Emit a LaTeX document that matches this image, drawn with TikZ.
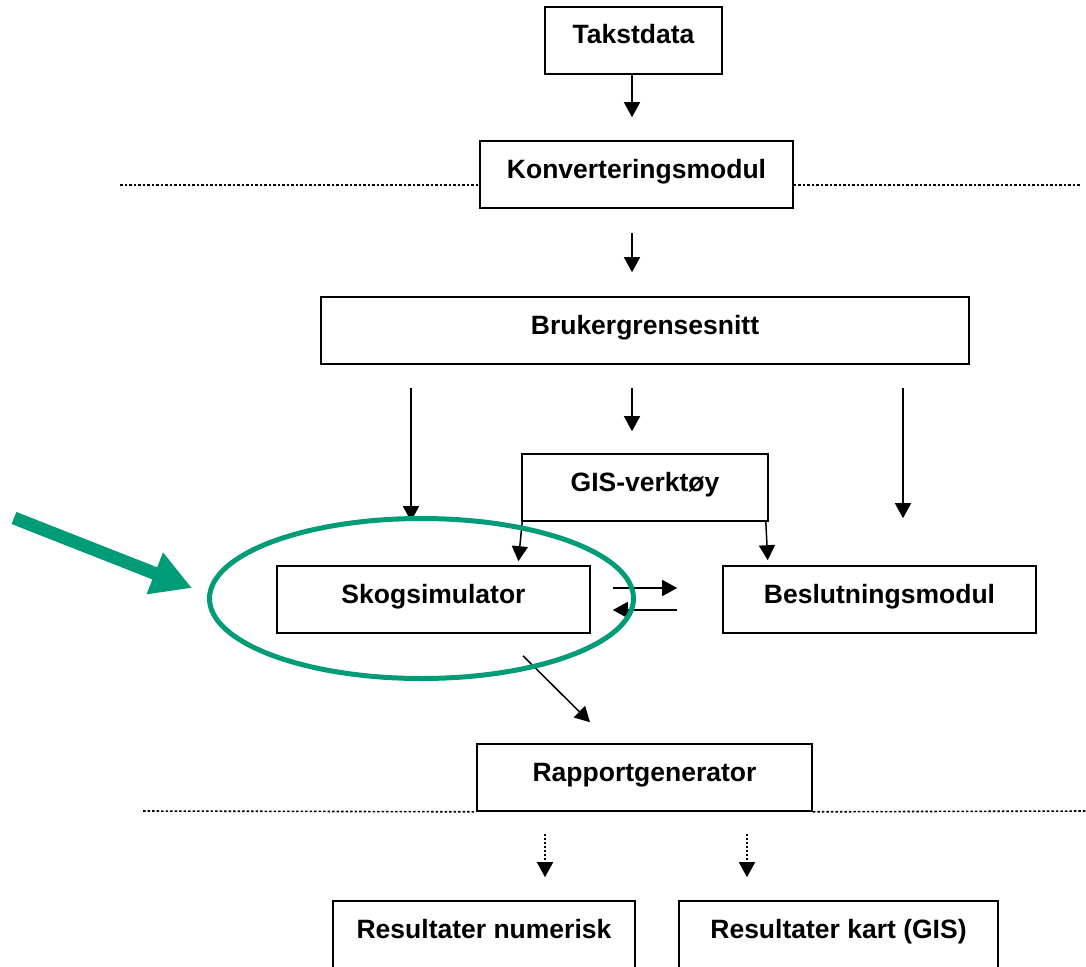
\documentclass[tikz,border=0pt]{standalone}
\usepackage{fontspec}
\setmainfont{Liberation Sans}
\usetikzlibrary{arrows.meta, calc}
\definecolor{MarkGreen}{HTML}{009B77}
\tikzset{
  modulebox/.style={rectangle, draw=black, line width=1.6pt, minimum height=67pt, text height=19pt, text depth=12pt, inner sep=0pt, font=\fontsize{26.5}{30}\selectfont\bfseries, align=center},
  flowarrow/.style={-{Triangle[length=15pt,width=16pt]}, line width=1.5pt},
  dottedarrow/.style={flowarrow, dash pattern=on 2pt off 2pt},
  sepline/.style={line width=1.6pt, dash pattern=on 2.5pt off 2pt},
  markring/.style={draw=MarkGreen, line width=5pt},
  markarrow/.style={-{Triangle[length=40pt,width=42pt]}, draw=MarkGreen, fill=MarkGreen, line width=13pt}
}

\begin{document}
\begin{tikzpicture}[x=1pt, y=-1pt]
  \useasboundingbox (0,0) rectangle (1086,966);

  % modules
  \node[modulebox, minimum width=177pt] (takst) at (633.5,40.5) {Takstdata};
  \node[modulebox, minimum width=313pt] (konv) at (636.5,174.5) {Konverteringsmodul};
  \node[modulebox, minimum width=648pt] (bruker) at (645,330.5) {Brukergrensesnitt};
  \node[modulebox, minimum width=246pt] (gis) at (645,487.5) {GIS-verktøy};
  \node[modulebox, minimum width=313pt] (skog) at (433.5,599.5) {Skogsimulator};
  \node[modulebox, minimum width=313pt] (beslut) at (879.5,599.5) {Beslutningsmodul};
  \node[modulebox, minimum width=335pt] (rapport) at (644.5,777.5) {Rapportgenerator};
  \node[modulebox, minimum width=302pt] (resnum) at (484,934.5) {Resultater numerisk};
  \node[modulebox, minimum width=319pt] (reskart) at (838.5,934.5) {Resultater kart (GIS)};

  % separators
  \coordinate (sepa) at (120,185);
  \coordinate (sepb) at (1080,185);
  \coordinate (sepc) at (143,811);
  \coordinate (sepd) at (1086,811);
  \draw[sepline] (sepa) -- (sepa -| konv.west);
  \draw[sepline] (sepb -| konv.east) -- (sepb);
  \draw[sepline] (sepc) -- (rapport.south west);
  \draw[sepline] (rapport.south east) -- (sepd);

  % flow
  \draw[flowarrow, shorten >=23pt] ([xshift=-1.5pt]takst.south) -- ([xshift=-1.5pt]takst.south |- konv.north);
  \draw[flowarrow, shorten <=24pt, shorten >=24pt] ([xshift=-4.5pt]konv.south) -- ([xshift=-4.5pt]konv.south |- bruker.north);
  \draw[flowarrow, shorten <=23pt, shorten >=44pt] ([xshift=-234pt]bruker.south) -- ([xshift=-234pt]bruker.south |- skog.north);
  \draw[flowarrow, shorten <=23pt, shorten >=22pt] ([xshift=-13pt]bruker.south) -- ([xshift=-13pt]bruker.south |- gis.north);
  \draw[flowarrow, shorten <=23pt, shorten >=47pt] ([xshift=258pt]bruker.south) -- ([xshift=258pt]bruker.south |- beslut.north);
  \draw[flowarrow, shorten >=4pt] ([xshift=1pt]gis.south west) -- ([xshift=84.5pt]skog.north);
  \draw[flowarrow, shorten >=5pt] ([xshift=-3pt]gis.south east) -- ([xshift=-111.5pt]beslut.north);
  \draw[flowarrow, shorten <=22pt, shorten >=45pt] ([yshift=11.5pt]skog.east) -- ([yshift=11.5pt]beslut.west);
  \draw[flowarrow, shorten <=45pt, shorten >=22pt] ([yshift=-10.5pt]beslut.west) -- ([yshift=-10.5pt]skog.east);
  \draw[flowarrow] ([xshift=89.5pt, yshift=-22pt]skog.south) -- ([xshift=-54.5pt, yshift=21pt]rapport.north);
  \draw[dottedarrow, shorten <=22pt, shorten >=23pt] ([xshift=-99.5pt]rapport.south) -- ([xshift=-99.5pt]rapport.south |- resnum.north);
  \draw[dottedarrow, shorten <=22pt, shorten >=23pt] ([xshift=102.5pt]rapport.south) -- ([xshift=102.5pt]rapport.south |- reskart.north);

  % highlight
  \coordinate (ringc) at (421.5,598.5);
  \draw[markring] (ringc) ellipse [x radius=212, y radius=80];
  \coordinate (ptail) at (14,518);
  \coordinate (ptip) at (192,588);
  \draw[markarrow] (ptail) -- (ptip);
\end{tikzpicture}
\end{document}
